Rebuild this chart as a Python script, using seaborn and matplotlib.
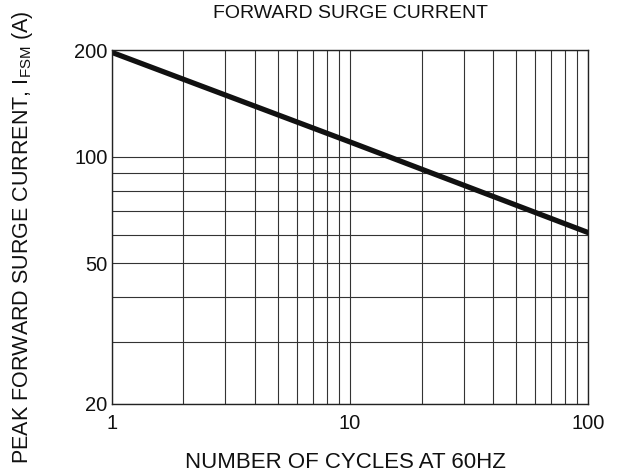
import matplotlib
matplotlib.use("Agg")
import matplotlib.pyplot as plt
import matplotlib.ticker as mticker
import seaborn as sns

# curve (log-log straight line)
cycles = [1, 10, 100]
surge_current = [197, 110, 61]

x_ticks = [1, 10, 100]
x_minor = [2, 3, 4, 5, 6, 7, 8, 9, 20, 30, 40, 50, 60, 70, 80, 90]
y_ticks = [20, 50, 100, 200]
y_minor = [30, 40, 60, 70, 80, 90]

sns.set_style("white")
plt.rcParams['font.family'] = ['Liberation Sans', 'DejaVu Sans']
plt.rcParams['mathtext.fontset'] = 'custom'
plt.rcParams['mathtext.rm'] = 'Liberation Sans'

fig = plt.figure(figsize=(6.21, 4.74), dpi=100)
ax = fig.add_axes([0.180, 0.1477, 0.767, 0.7468])

sns.lineplot(x=cycles, y=surge_current, ax=ax, color='#111111', linewidth=3.8)

ax.set_xscale('log')
ax.set_yscale('log')
ax.set_xlim(1, 100)
ax.set_ylim(20, 200)

ax.xaxis.set_major_locator(mticker.FixedLocator(x_ticks))
ax.xaxis.set_minor_locator(mticker.FixedLocator(x_minor))
ax.yaxis.set_major_locator(mticker.FixedLocator(y_ticks))
ax.yaxis.set_minor_locator(mticker.FixedLocator(y_minor))
ax.xaxis.set_major_formatter(mticker.FixedFormatter([str(v) for v in x_ticks]))
ax.yaxis.set_major_formatter(mticker.FixedFormatter([str(v) for v in y_ticks]))
ax.xaxis.set_minor_formatter(mticker.NullFormatter())
ax.yaxis.set_minor_formatter(mticker.NullFormatter())

ax.grid(True, which='both', color='#333333', linewidth=0.8)
ax.tick_params(axis='both', which='both', length=0, labelsize=14.5, colors='#111111')
ax.tick_params(axis='x', pad=7)
ax.tick_params(axis='y', pad=3)

for side in ['top', 'bottom', 'left', 'right']:
    ax.spines[side].set_visible(True)
    ax.spines[side].set_color('#222222')
    ax.spines[side].set_linewidth(1.0)

fig.text(0.564, 0.962, 'FORWARD SURGE CURRENT', ha='center', va='baseline',
         fontsize=14, color='#111111')
fig.text(0.557, 0.013, 'NUMBER OF CYCLES AT 60HZ', ha='center', va='baseline',
         fontsize=16, color='#111111')
fig.text(0.036, 0.5, r'PEAK FORWARD SURGE CURRENT, I$_{\rm FSM}$ (A)', ha='center',
         va='center', rotation=90, fontsize=15.5, color='#111111')

fig.savefig('out.png', dpi=100)
